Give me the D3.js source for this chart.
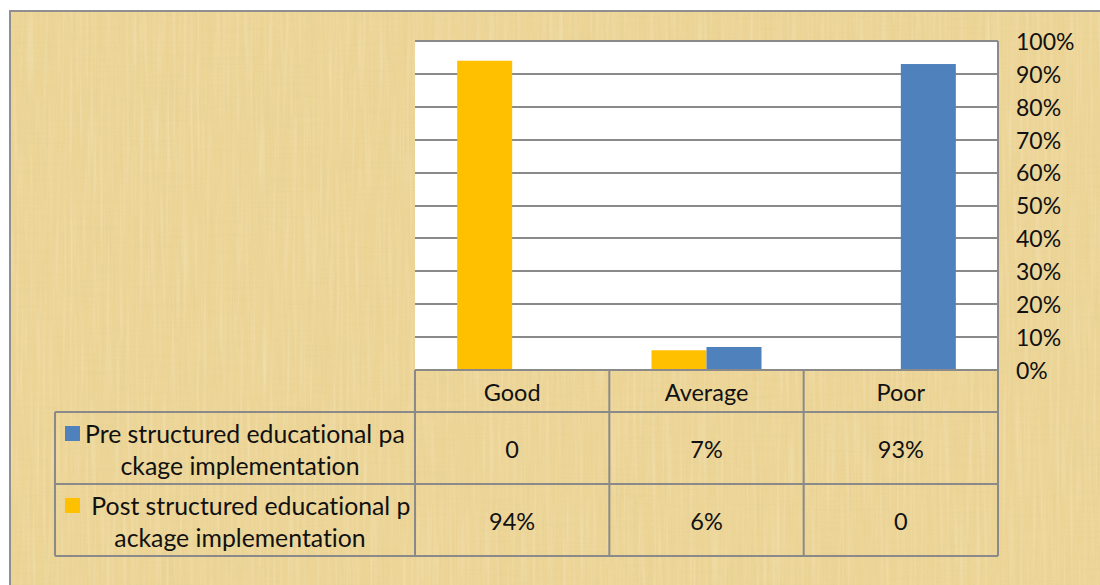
<!DOCTYPE html>
<html>
<head>
<meta charset="utf-8">
<script src="https://cdn.jsdelivr.net/npm/d3@7"></script>
<style>
  body { margin: 0; background: #fff; }
  svg { display: block; font-family: Lato, "Open Sans", sans-serif; font-variant-ligatures: none; }
</style>
</head>
<body>
<svg id="chart" width="1100" height="585"></svg>
<script>
"use strict";

const categories = ["Good", "Average", "Poor"]
const seriesNames = ["Pre structured educational package implementation", "Post structured educational package implementation"]
const preValues = [0, 0.07, 0.93]
const postValues = [0.94, 0.06, 0]
const preLabels = ["0", "7%", "93%"]
const postLabels = ["94%", "6%", "0"]
const labelLines = [["Pre structured educational pa", "ckage implementation"], [" Post structured educational p", "ackage implementation"]]
const yTicks = [0, 0.1, 0.2, 0.3, 0.4, 0.5, 0.6, 0.7, 0.8, 0.9, 1]

const colors = new Map()
    .set("pre", "#4F81BD")
    .set("post", "#FFC000")

const width = 1100
const height = 585
const plot = { left: 415, right: 998, top: 41, bottom: 370 }
const tableLeft = 55
const rowBottoms = [412, 484, 556]
const gridColor = "#8a8a8a"
const fontSize = 23.5
const labelSize = 24.8

const svg = d3.select("#chart")

// papyrus-like background
const defs = svg.append("defs")
function noiseFilter(id, freq, seed, rgb, a, b) {
    const f = defs.append("filter").attr("id", id).attr("x", 0).attr("y", 0).attr("width", 1).attr("height", 1)
    f.append("feTurbulence").attr("type", "fractalNoise").attr("baseFrequency", freq).attr("numOctaves", 2).attr("seed", seed)
    f.append("feColorMatrix").attr("type", "matrix")
        .attr("values", `0 0 0 0 ${rgb[0]}  0 0 0 0 ${rgb[1]}  0 0 0 0 ${rgb[2]}  ${a} 0 0 0 ${b}`)
}
noiseFilter("blot", "0.006 0.015", 11, [0.82, 0.67, 0.32], 1.4, -0.55)
noiseFilter("bandV", "0.06 0.004", 5, [0.80, 0.66, 0.30], 2.2, -1.0)
noiseFilter("fibV", "0.45 0.015", 3, [0.72, 0.58, 0.26], 2.0, -0.95)
noiseFilter("fibH", "0.015 0.45", 7, [0.74, 0.60, 0.28], 2.0, -1.0)
noiseFilter("litV", "0.3 0.01", 17, [1, 0.97, 0.86], 2.0, -0.95)

const bg = svg.append("g")
const bgRect = () => bg.append("rect").attr("x", 10).attr("y", 11).attr("width", width).attr("height", height)
bgRect().attr("fill", "#EDD597")
bgRect().attr("filter", "url(#blot)").attr("opacity", 0.45)
bgRect().attr("filter", "url(#bandV)").attr("opacity", 0.3)
bgRect().attr("filter", "url(#fibV)").attr("opacity", 0.3)
bgRect().attr("filter", "url(#fibH)").attr("opacity", 0.3)
bgRect().attr("filter", "url(#litV)").attr("opacity", 0.25)
bg.append("rect").attr("x", 10).attr("y", 11).attr("width", width + 20).attr("height", height + 20)
    .attr("fill", "none").attr("stroke", "#8f8f8f").attr("stroke-width", 2)

// scales
const x = d3.scaleBand().domain(categories).range([plot.left, plot.right])
const y = d3.scaleLinear().domain([0, 1]).range([plot.bottom, plot.top])
const barW = 55
const xs = d3.scaleBand().domain(["post", "pre"]).range([0, barW * 2])

// plot area
svg.append("rect")
    .attr("x", plot.left).attr("y", plot.top)
    .attr("width", plot.right - plot.left).attr("height", plot.bottom - plot.top)
    .attr("fill", "#fff")

svg.append("g").selectAll("line")
    .data(yTicks)
    .join("line")
    .attr("x1", plot.left).attr("x2", plot.right)
    .attr("y1", d => Math.round(y(d))).attr("y2", d => Math.round(y(d)))
    .attr("stroke", gridColor).attr("stroke-width", 2)

svg.append("line")
    .attr("x1", plot.right).attr("x2", plot.right)
    .attr("y1", plot.top).attr("y2", plot.bottom)
    .attr("stroke", gridColor).attr("stroke-width", 2)

// bars
const barData = []
categories.forEach((c, i) => {
    barData.push({ cat: c, key: "post", value: postValues[i] })
    barData.push({ cat: c, key: "pre", value: preValues[i] })
})

svg.append("g").selectAll("rect")
    .data(barData.filter(d => d.value > 0))
    .join("rect")
    .attr("x", d => x(d.cat) + x.bandwidth() / 2 - barW + xs(d.key))
    .attr("y", d => y(d.value))
    .attr("width", xs.bandwidth())
    .attr("height", d => y(0) - y(d.value))
    .attr("fill", d => colors.get(d.key))

// right axis
const axis = svg.append("g")
    .attr("transform", `translate(${plot.right + 18},1)`)
    .call(d3.axisRight(y).tickValues(yTicks).tickFormat(d3.format(".0%")).tickSize(0).tickPadding(0))
axis.select(".domain").remove()
axis.selectAll("text").attr("font-size", 23).attr("fill", "#111").attr("font-family", "Lato, sans-serif")

// data table
const table = svg.append("g")
const lineStyle = sel => sel.attr("stroke", gridColor).attr("stroke-width", 2)

// horizontal lines
table.append("line").attr("x1", plot.left).attr("x2", plot.right).attr("y1", plot.bottom).attr("y2", plot.bottom).call(lineStyle)
rowBottoms.forEach(yy => {
    table.append("line").attr("x1", tableLeft).attr("x2", plot.right).attr("y1", yy).attr("y2", yy).call(lineStyle)
})
// vertical lines
categories.concat(["_end"]).forEach((c, i) => {
    const xx = i < categories.length ? x(c) : plot.right
    table.append("line").attr("x1", xx).attr("x2", xx).attr("y1", plot.bottom).attr("y2", rowBottoms[2]).call(lineStyle)
})
table.append("line").attr("x1", tableLeft).attr("x2", tableLeft).attr("y1", rowBottoms[0]).attr("y2", rowBottoms[2]).call(lineStyle)

// header
table.selectAll("text.head")
    .data(categories)
    .join("text")
    .attr("class", "head")
    .attr("x", d => x(d) + x.bandwidth() / 2)
    .attr("y", (plot.bottom + rowBottoms[0]) / 2 + 2)
    .attr("dy", "0.35em")
    .attr("text-anchor", "middle")
    .attr("font-size", fontSize)
    .attr("fill", "#111")
    .text(d => d)

// value cells
const rows = [preLabels, postLabels]
rows.forEach((labels, r) => {
    const top = rowBottoms[r]
    const bottom = rowBottoms[r + 1]
    table.append("g").selectAll("text")
        .data(labels)
        .join("text")
        .attr("x", (d, i) => x(categories[i]) + x.bandwidth() / 2)
        .attr("y", (top + bottom) / 2 + 2)
        .attr("dy", "0.35em")
        .attr("text-anchor", "middle")
        .attr("font-size", fontSize)
        .attr("fill", "#111")
        .text(d => d)
})

// legend row labels
const legendKeys = ["pre", "post"]
legendKeys.forEach((k, r) => {
    const top = rowBottoms[r]
    const bottom = rowBottoms[r + 1]
    const mid = (top + bottom) / 2
    table.append("rect")
        .attr("x", 65).attr("y", mid - 22)
        .attr("width", 15).attr("height", 15)
        .attr("fill", colors.get(k))
    const lines = labelLines[r]
    table.append("text")
        .attr("x", 85).attr("y", mid - 14)
        .attr("dy", "0.35em")
        .attr("font-size", labelSize)
        .attr("fill", "#111")
        .attr("xml:space", "preserve")
        .style("white-space", "pre")
        .text(lines[0])
    table.append("text")
        .attr("x", (tableLeft + plot.left) / 2 + 5)
        .attr("y", mid + 18)
        .attr("dy", "0.35em")
        .attr("text-anchor", "middle")
        .attr("font-size", labelSize)
        .attr("fill", "#111")
        .text(lines[1])
})
</script>
</body>
</html>
